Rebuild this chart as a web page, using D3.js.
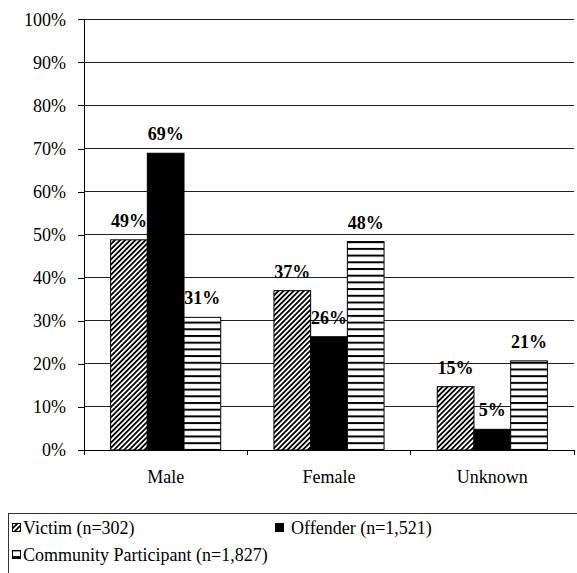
<!DOCTYPE html>
<html><head><meta charset="utf-8">
<script src="https://cdn.jsdelivr.net/npm/d3@7"></script>
<style>body{margin:0;background:#fff}svg{display:block}svg text{font-family:"Liberation Serif" !important}</style>
</head><body>
<svg id="c" width="577" height="573"></svg>
<script>
const categories = ["Male", "Female", "Unknown"];
const seriesNames = ["Victim (n=302)", "Offender (n=1,521)", "Community Participant (n=1,827)"];
const victim = [48.8, 37.0, 14.7];
const offender = [68.9, 26.3, 4.8];
const community = [30.8, 48.4, 20.7];
const yTicks = [0, 10, 20, 30, 40, 50, 60, 70, 80, 90, 100];

const FONT = "Liberation Serif";
const series = [victim, offender, community];
const fills = ["url(#diag)", "#000", "url(#horiz)"];

const svg = d3.select("#c");

const mLeft = 84, mRight = 574, mTop = 19.3, mBottom = 450;
const x = d3.scaleBand().domain(categories).range([mLeft, mRight]).paddingInner(0).paddingOuter(0);
const xs = d3.scaleBand().domain(d3.range(series.length)).range([0, x.bandwidth()]).paddingInner(0).paddingOuter(0.725);
const y = d3.scaleLinear().domain([0, 100]).range([mBottom, mTop]);

function serif(sel) {
  sel.attr("font-family", FONT).style("font-family", FONT, "important");
  return sel;
}

// gridlines
svg.append("g").selectAll("line").data(yTicks.filter(t => t > 0)).join("line")
  .attr("x1", mLeft).attr("x2", mRight).attr("y1", d => y(d)).attr("y2", d => y(d))
  .attr("stroke", "#222").attr("stroke-width", 1).attr("shape-rendering", "crispEdges");

// y axis
const yAxis = d3.axisLeft(y).tickValues(yTicks).tickFormat(d => d + "%").tickSize(6).tickPadding(12);
const gy = svg.append("g").attr("transform", `translate(${mLeft},0)`).call(yAxis);
serif(gy).attr("font-size", 18);
gy.select(".domain").attr("stroke", "#000").attr("shape-rendering", "crispEdges");
gy.selectAll(".tick line").attr("stroke", "#000").attr("shape-rendering", "crispEdges");
serif(gy.selectAll("text")).attr("fill", "#000").attr("font-size", 18);

// patterns
const defs = svg.append("defs");
const pd = defs.append("pattern").attr("id", "diag").attr("patternUnits", "userSpaceOnUse")
  .attr("width", 3.6).attr("height", 3.6).attr("patternTransform", "rotate(45)");
pd.append("rect").attr("width", 3.6).attr("height", 3.6).attr("fill", "#fff");
pd.append("rect").attr("width", 1.8).attr("height", 3.6).attr("fill", "#000");
const ph = defs.append("pattern").attr("id", "horiz").attr("patternUnits", "userSpaceOnUse")
  .attr("width", 10).attr("height", 6.7);
ph.append("rect").attr("width", 10).attr("height", 6.7).attr("fill", "#fff");
ph.append("rect").attr("y", 0).attr("width", 10).attr("height", 2).attr("fill", "#000");

// bars
const groups = svg.append("g").selectAll("g").data(categories).join("g")
  .attr("transform", d => `translate(${x(d)},0)`);
groups.selectAll("rect").data((c, i) => series.map((s, j) => ({j, v: s[i]}))).join("rect")
  .attr("x", d => xs(d.j)).attr("width", xs.bandwidth())
  .attr("y", d => y(d.v)).attr("height", d => mBottom - y(d.v))
  .attr("fill", d => fills[d.j]).attr("stroke", "#000").attr("stroke-width", 1);

// x axis
const xAxis = d3.axisBottom(x).tickSize(0).tickPadding(20);
const gx = svg.append("g").attr("transform", `translate(0,${mBottom})`).call(xAxis);
serif(gx).attr("font-size", 18);
gx.select(".domain").attr("stroke", "#000").attr("shape-rendering", "crispEdges");
serif(gx.selectAll("text")).attr("fill", "#000").attr("font-size", 18);
svg.append("g").selectAll("line").data(categories.map(c => x(c)).concat([mRight])).join("line")
  .attr("x1", d => d).attr("x2", d => d).attr("y1", mBottom).attr("y2", mBottom + 5)
  .attr("stroke", "#000").attr("shape-rendering", "crispEdges");

// value labels
serif(groups.selectAll("text.lbl").data((c, i) => series.map((s, j) => ({j, v: s[i]}))).join("text")
  .attr("class", "lbl")
  .attr("x", d => xs(d.j) + xs.bandwidth() / 2).attr("y", d => y(d.v) - 13)
  .attr("text-anchor", "middle").attr("font-size", 18).attr("font-weight", "bold"))
  .text(d => Math.round(d.v) + "%");

// legend
const lg = svg.append("g");
lg.append("rect").attr("x", 8.5).attr("y", 513.5).attr("width", 600).attr("height", 100)
  .attr("fill", "none").attr("stroke", "#333");
const legPos = [[12, 23, 534], [275, 291, 534], [12, 23, 561]];
const li = lg.selectAll("g").data(seriesNames).join("g");
li.append("rect").attr("x", (d, i) => legPos[i][0] + 0.5).attr("y", (d, i) => legPos[i][2] - 10.5)
  .attr("width", 8).attr("height", 8)
  .attr("fill", (d, i) => fills[i]).attr("stroke", "#000").attr("stroke-width", 1);
serif(li.append("text").attr("x", (d, i) => legPos[i][1]).attr("y", (d, i) => legPos[i][2])
  .attr("font-size", 18).attr("fill", "#000")).text(d => d);
</script>
</body></html>
